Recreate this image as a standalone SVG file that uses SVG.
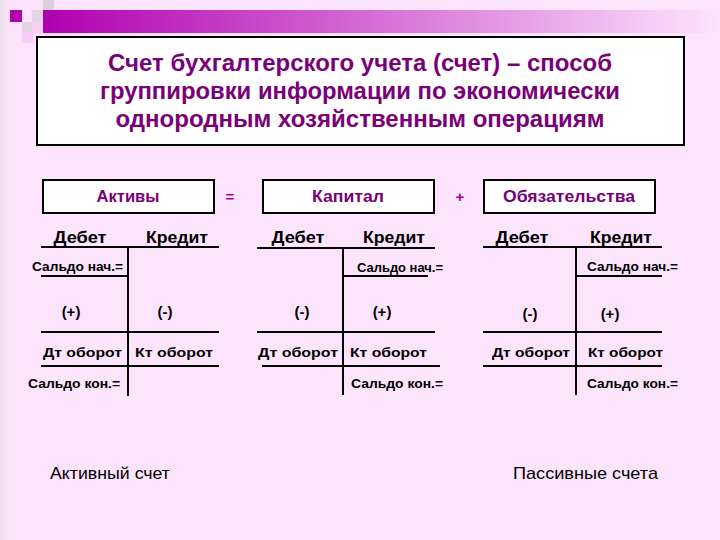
<svg xmlns="http://www.w3.org/2000/svg" width="720" height="540" viewBox="0 0 720 540">
<defs>
<linearGradient id="bar" x1="0" y1="0" x2="1" y2="0">
<stop offset="0" stop-color="#B000B0"/>
<stop offset="0.5" stop-color="#D670D6"/>
<stop offset="1" stop-color="#FCE4FC"/>
</linearGradient>
<linearGradient id="edge" x1="0" y1="0" x2="1" y2="0">
<stop offset="0" stop-color="#E6D8E6"/>
<stop offset="1" stop-color="#FCE4FC"/>
</linearGradient>
</defs>
<style>
.bx{fill:#FFFFFF;stroke:#000;stroke-width:2}
.ln{stroke:#000;stroke-width:2;fill:none}
.ttl{font-family:"Liberation Sans",Arial,sans-serif;font-weight:bold;font-size:23.5px;fill:#7A0078;text-anchor:middle}
.hd{font-family:"Liberation Sans",Arial,sans-serif;font-weight:bold;font-size:16px;fill:#7A0078;text-anchor:middle}
.op{font-family:"Liberation Sans",Arial,sans-serif;font-weight:bold;font-size:15px;fill:#A000A0;text-anchor:middle}
.dk{font-family:"Liberation Sans",Arial,sans-serif;font-weight:bold;font-size:16px;fill:#000;text-anchor:middle}
.sm{font-family:"Liberation Sans",Arial,sans-serif;font-weight:bold;font-size:12px;fill:#000}
.ob{font-family:"Liberation Sans",Arial,sans-serif;font-weight:bold;font-size:13px;fill:#000}
.pm{font-family:"Liberation Sans",Arial,sans-serif;font-weight:bold;font-size:15px;fill:#000;text-anchor:middle}
.ft{font-family:"Liberation Sans",Arial,sans-serif;font-size:17px;fill:#000}
</style>
<rect x="0" y="0" width="720" height="540" fill="#FCE4FC"/>
<rect x="0" y="0" width="10" height="540" fill="url(#edge)" opacity="0.6"/>
<g id="decor">
<rect x="43" y="10" width="677" height="23" fill="url(#bar)"/>
<rect x="10" y="10" width="12" height="12" fill="#B000B0"/>
<rect x="43" y="0" width="11" height="10" fill="#DCD0DC"/>
<rect x="32" y="10" width="11" height="12" fill="#E4D4E4"/>
<rect x="22" y="22" width="10" height="10" fill="#E0D4E0"/>
<rect x="32" y="22" width="11" height="11" fill="#F8D0F4"/>
<rect x="22" y="32" width="11" height="11" fill="#F8CCF4"/>
</g>
<g id="title">
<rect class="bx" x="37" y="37" width="647" height="108" stroke-width="1.5"/>
<text class="ttl" x="360" y="71" textLength="504" lengthAdjust="spacingAndGlyphs">Счет бухгалтерского учета (счет) – способ</text>
<text class="ttl" x="360" y="99" textLength="520" lengthAdjust="spacingAndGlyphs">группировки информации по экономически</text>
<text class="ttl" x="360" y="127" textLength="489" lengthAdjust="spacingAndGlyphs">однородным хозяйственным операциям</text>
</g>
<g id="aktivy">
<rect class="bx" x="43" y="180" width="171" height="33"/>
<text class="hd" x="128" y="202" textLength="63" lengthAdjust="spacingAndGlyphs">Активы</text>
</g>
<g id="eq"><text class="op" x="230" y="202">=</text></g>
<g id="kapital">
<rect class="bx" x="263" y="180" width="171" height="33"/>
<text class="hd" x="348" y="202" textLength="72" lengthAdjust="spacingAndGlyphs">Капитал</text>
</g>
<g id="plus"><text class="op" x="460" y="202">+</text></g>
<g id="obyaz">
<rect class="bx" x="484" y="180" width="171" height="33"/>
<text class="hd" x="569" y="202" textLength="132" lengthAdjust="spacingAndGlyphs">Обязательства</text>
</g>
<g id="connectors">
<path class="ln" d="M41 247H219M128 247V396M41 276H128M41 332H219M41 366H219"/>
<path class="ln" d="M257 248H435M343 248V395M343 276H428M257 332H435M262 366H440"/>
<path class="ln" d="M483 247H662M576 247V395M576 276H662M483 332H662M483 366H662"/>
</g>
<g id="t-aktiv">
<text class="dk" x="80" y="243" textLength="53" lengthAdjust="spacingAndGlyphs">Дебет</text>
<text class="dk" x="177" y="243" textLength="62" lengthAdjust="spacingAndGlyphs">Кредит</text>
<text class="sm" x="32" y="271" textLength="91" lengthAdjust="spacingAndGlyphs">Сальдо нач.=</text>
<text class="pm" x="71" y="317">(+)</text>
<text class="pm" x="165" y="317">(-)</text>
<text class="ob" x="43" y="357" textLength="79" lengthAdjust="spacingAndGlyphs">Дт оборот</text>
<text class="ob" x="135" y="357" textLength="78" lengthAdjust="spacingAndGlyphs">Кт оборот</text>
<text class="sm" x="28" y="388" textLength="92" lengthAdjust="spacingAndGlyphs">Сальдо кон.=</text>
</g>
<g id="t-kapital">
<text class="dk" x="298" y="243" textLength="53" lengthAdjust="spacingAndGlyphs">Дебет</text>
<text class="dk" x="394" y="243" textLength="62" lengthAdjust="spacingAndGlyphs">Кредит</text>
<text class="sm" x="357" y="272" textLength="86" lengthAdjust="spacingAndGlyphs">Сальдо нач.=</text>
<text class="pm" x="302" y="317">(-)</text>
<text class="pm" x="382" y="317">(+)</text>
<text class="ob" x="258" y="357" textLength="80" lengthAdjust="spacingAndGlyphs">Дт оборот</text>
<text class="ob" x="350" y="357" textLength="77" lengthAdjust="spacingAndGlyphs">Кт оборот</text>
<text class="sm" x="351" y="388" textLength="92" lengthAdjust="spacingAndGlyphs">Сальдо кон.=</text>
</g>
<g id="t-obyaz">
<text class="dk" x="522" y="243" textLength="53" lengthAdjust="spacingAndGlyphs">Дебет</text>
<text class="dk" x="621" y="243" textLength="62" lengthAdjust="spacingAndGlyphs">Кредит</text>
<text class="sm" x="587" y="271" textLength="91" lengthAdjust="spacingAndGlyphs">Сальдо нач.=</text>
<text class="pm" x="530" y="319">(-)</text>
<text class="pm" x="610" y="319">(+)</text>
<text class="ob" x="492" y="357" textLength="78" lengthAdjust="spacingAndGlyphs">Дт оборот</text>
<text class="ob" x="588" y="357" textLength="75" lengthAdjust="spacingAndGlyphs">Кт оборот</text>
<text class="sm" x="587" y="388" textLength="91" lengthAdjust="spacingAndGlyphs">Сальдо кон.=</text>
</g>
<g id="footer">
<text class="ft" x="50" y="479" textLength="120" lengthAdjust="spacingAndGlyphs">Активный счет</text>
<text class="ft" x="513" y="479" textLength="145" lengthAdjust="spacingAndGlyphs">Пассивные счета</text>
</g>
</svg>
